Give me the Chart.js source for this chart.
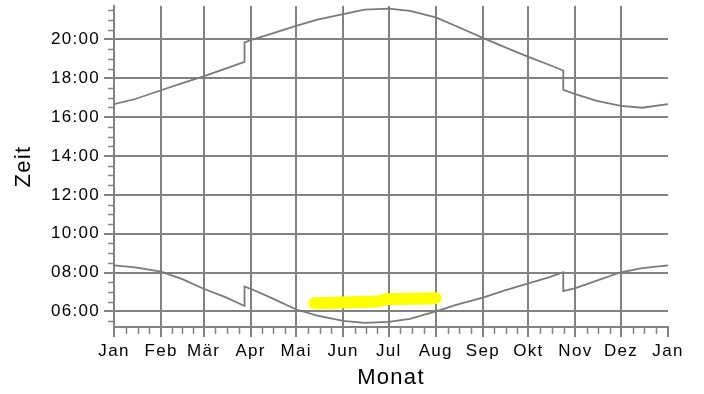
<!DOCTYPE html>
<html lang="de">
<head>
<meta charset="utf-8">
<script src="https://cdn.jsdelivr.net/npm/chart.js@4.4.1/dist/chart.umd.min.js"></script>
<style>
  html, body { margin: 0; padding: 0; background: #fff; }
  #wrap { width: 704px; height: 394px; }
</style>
</head>
<body>
<div id="wrap"><canvas id="grafik" width="704" height="394"></canvas></div>
<script>
// ================= DATEN =================
const monate = ["Jan", "Feb", "Mär", "Apr", "Mai", "Jun", "Jul", "Aug", "Sep", "Okt", "Nov", "Dez", "Jan"];
const monatsAnfang = [0, 31, 59, 90, 120, 151, 181, 212, 243, 273, 304, 334, 365];
const zeitTicks = ["06:00", "08:00", "10:00", "12:00", "14:00", "16:00", "18:00", "20:00"];

// Tag im Jahr (0 = 1. Jan), Zeitumstellung doppelt
const tage = [0, 14, 31, 45, 59, 73, 86, 86, 90, 104, 120, 134, 151, 165, 181, 195, 212, 226, 243, 257, 273, 287, 296, 296, 304, 318, 334, 348, 365];
const untergang = ["16:40", "16:56", "17:23", "17:45", "18:06", "18:29", "18:51", "19:51", "19:58", "20:18", "20:42", "21:01", "21:18", "21:32", "21:35", "21:28", "21:08", "20:40", "20:05", "19:37", "19:06", "18:41", "18:24", "17:24", "17:11", "16:50", "16:35", "16:29", "16:40"];
const aufgang = ["08:22", "08:16", "08:03", "07:40", "07:10", "06:45", "06:17", "07:17", "07:10", "06:41", "06:06", "05:47", "05:31", "05:25", "05:28", "05:37", "06:00", "06:21", "06:43", "07:04", "07:27", "07:46", "08:01", "07:03", "07:12", "07:35", "08:01", "08:14", "08:22"];

// gelbe Markierung
const markTage = [132, 174, 179, 212];
const markZeit = ["06:25", "06:31", "06:38", "06:41"];

// ================= HILFSFUNKTIONEN =================
function zu(s) {
  const [hh, mm] = s.split(":").map(Number);
  return hh + mm / 60;
}

const gitterGrau = "#828282";
const linieGrau = "#7a7a7a";

Chart.defaults.font.family = "'Liberation Sans', Arial, Helvetica, sans-serif";
Chart.defaults.color = "#000";

// ================= KLEINE STRICHE =================
const kleineStriche = {
  id: "kleineStriche",
  afterDraw(chart) {
    const { ctx, scales: { x, y } } = chart;
    ctx.save();
    ctx.strokeStyle = gitterGrau;
    ctx.lineWidth = 1.5;
    ctx.beginPath();
    for (let m = 0; m < 12; m++) {
      const a = monatsAnfang[m];
      const len = monatsAnfang[m + 1] - a;
      for (let k = 1; k < 4; k++) {
        const px = Math.round(x.getPixelForValue(a + (len * k) / 4)) + 0.5;
        ctx.moveTo(px, y.bottom);
        ctx.lineTo(px, y.bottom + 7);
      }
    }
    for (let t = 5.5; t <= y.max; t += 0.5) {
      if (t % 2 === 0) continue;
      const py = Math.round(y.getPixelForValue(t)) + 0.5;
      ctx.moveTo(x.left - 6, py);
      ctx.lineTo(x.left, py);
    }
    ctx.stroke();
    ctx.restore();
  },
};

const abstand = {
  id: "abstand",
  beforeDraw(chart) {
    chart.ctx.letterSpacing = "1.3px";
  },
};

// ================= GRAFIK =================
const ctx = document.getElementById("grafik");

new Chart(ctx, {
  type: "line",
  data: {
    datasets: [
      {
        label: "Sonnenuntergang",
        data: tage.map((d, i) => ({ x: d, y: zu(untergang[i]) })),
        borderColor: linieGrau,
        borderWidth: 1.8,
        pointRadius: 0,
        tension: 0,
      },
      {
        label: "Sonnenaufgang",
        data: tage.map((d, i) => ({ x: d, y: zu(aufgang[i]) })),
        borderColor: linieGrau,
        borderWidth: 1.8,
        pointRadius: 0,
        tension: 0,
      },
      {
        label: "Markierung",
        data: markTage.map((d, i) => ({ x: d, y: zu(markZeit[i]) })),
        borderColor: "#ffff00",
        borderWidth: 12,
        borderCapStyle: "round",
        borderJoinStyle: "round",
        pointRadius: 0,
        tension: 0,
      },
    ],
  },
  options: {
    responsive: false,
    animation: false,
    layout: { padding: { left: 0, right: 36, top: 6, bottom: 0 } },
    plugins: {
      legend: { display: false },
      tooltip: { enabled: false },
    },
    scales: {
      x: {
        type: "linear",
        min: 0,
        max: 365,
        z: 1,
        afterBuildTicks: (s) => {
          s.ticks = monatsAnfang.map((v) => ({ value: v }));
        },
        afterFit: (s) => {
          s.height = 67;
          s.paddingLeft = 0;
          s.paddingRight = 0;
        },
        ticks: {
          autoSkip: false,
          maxRotation: 0,
          padding: 4,
          font: { size: 17 },
          callback: (v, i) => monate[i],
        },
        grid: {
          color: (c) => (c.tick && c.tick.value === 365 ? "rgba(0,0,0,0)" : gitterGrau),
          lineWidth: 2,
          tickLength: 10,
          tickColor: gitterGrau,
          tickWidth: 2,
        },
        border: { color: gitterGrau, width: 2 },
        title: {
          display: true,
          text: "Monat",
          font: { size: 22 },
          padding: { top: 0, bottom: 3 },
        },
      },
      y: {
        type: "linear",
        min: 5.2,
        max: 21.72,
        z: 1,
        afterBuildTicks: (s) => {
          s.ticks = zeitTicks.map((t) => ({ value: zu(t) }));
        },
        afterFit: (s) => {
          s.width = 114;
          s.paddingTop = 0;
          s.paddingBottom = 0;
        },
        ticks: {
          autoSkip: false,
          padding: 4,
          font: { size: 17 },
          callback: (v, i) => zeitTicks[i],
        },
        grid: {
          color: gitterGrau,
          lineWidth: 2,
          tickLength: 10,
          tickColor: gitterGrau,
          tickWidth: 2,
        },
        border: { color: gitterGrau, width: 2 },
        title: {
          display: true,
          text: "Zeit",
          font: { size: 22 },
          padding: { top: 11, bottom: 0 },
        },
      },
    },
  },
  plugins: [kleineStriche, abstand],
});
</script>
</body>
</html>
